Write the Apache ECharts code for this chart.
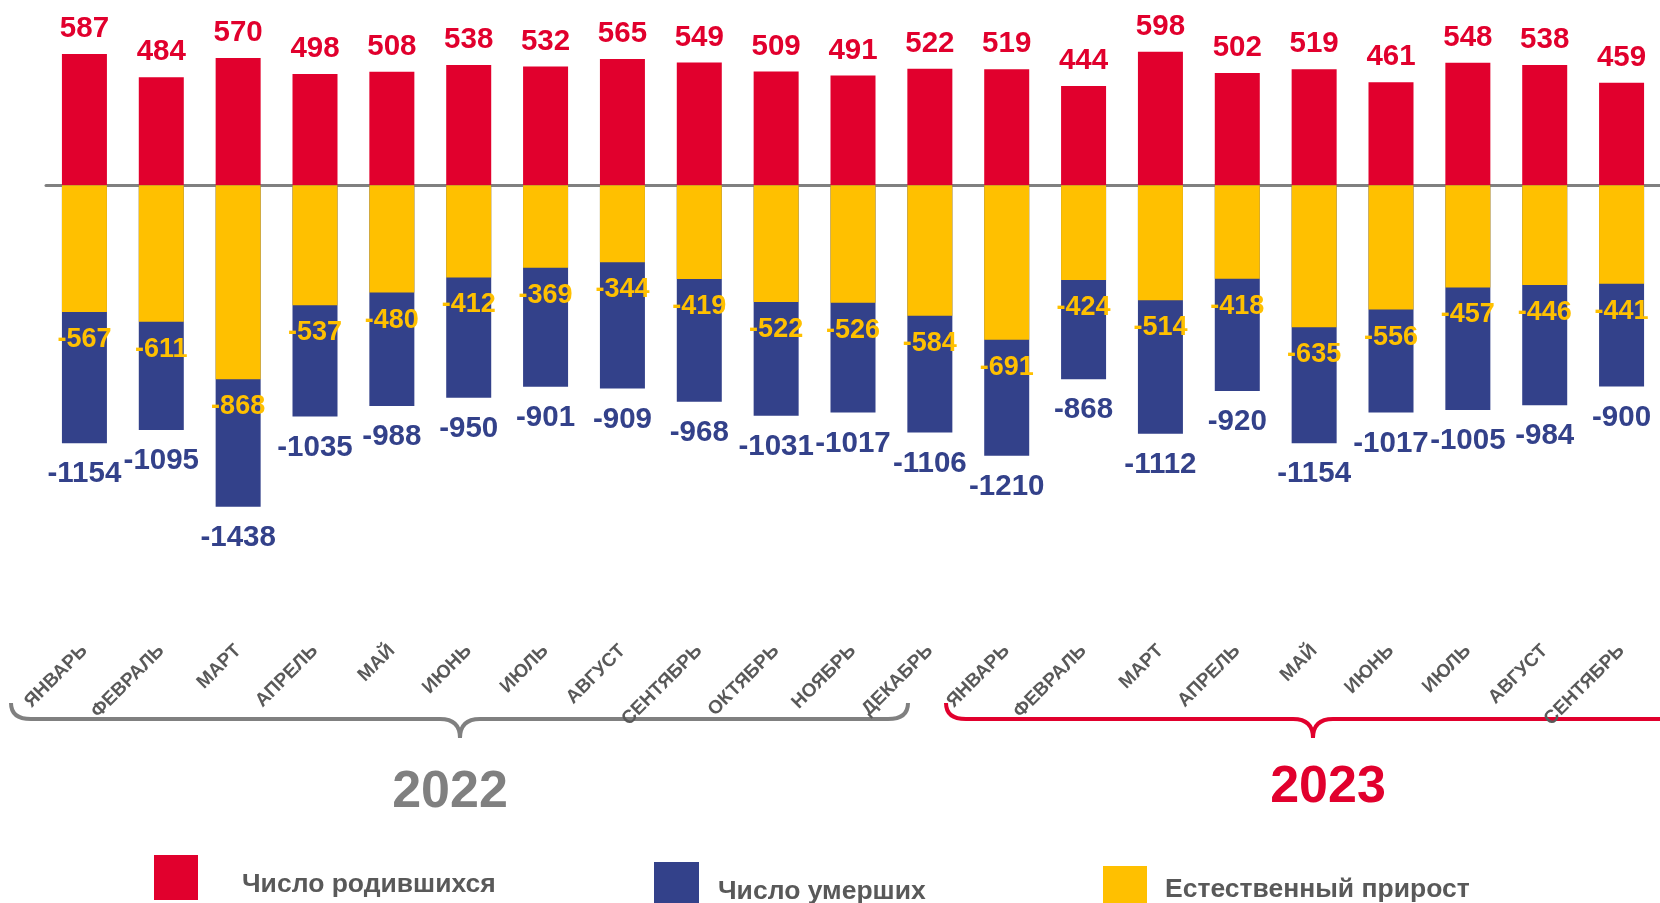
<!DOCTYPE html>
<html>
<head>
    <meta charset="utf-8">
    <title>ECharts</title>
    <script src="https://cdn.jsdelivr.net/npm/echarts@6/dist/echarts.min.js"></script>
    <style>
        html, body { margin: 0; padding: 0; background: #fff; }
    </style>
</head>
<body>
    <div id="main" style="width: 1660px;height:903px;"></div>
    <script type="text/javascript">
        var myChart = echarts.init(document.getElementById('main'));

        // месяцы
        var months = ['ЯНВАРЬ', 'ФЕВРАЛЬ', 'МАРТ', 'АПРЕЛЬ', 'МАЙ', 'ИЮНЬ', 'ИЮЛЬ', 'АВГУСТ',
            'СЕНТЯБРЬ', 'ОКТЯБРЬ', 'НОЯБРЬ', 'ДЕКАБРЬ',
            'ЯНВАРЬ', 'ФЕВРАЛЬ', 'МАРТ', 'АПРЕЛЬ', 'МАЙ', 'ИЮНЬ', 'ИЮЛЬ', 'АВГУСТ', 'СЕНТЯБРЬ'];

        var births = [587, 484, 570, 498, 508, 538, 532, 565, 549, 509, 491, 522,
            519, 444, 598, 502, 519, 461, 548, 538, 459];
        var deaths = [-1154, -1095, -1438, -1035, -988, -950, -901, -909, -968, -1031, -1017, -1106,
            -1210, -868, -1112, -920, -1154, -1017, -1005, -984, -900];
        var growth = [-567, -611, -868, -537, -480, -412, -369, -344, -419, -522, -526, -584,
            -691, -424, -514, -418, -635, -556, -457, -446, -441];

        var years = ['2022', '2023'];
        var names = ['Число родившихся', 'Число умерших', 'Естественный прирост'];

        var RED = '#E1002D', BLUE = '#33418A', YEL = '#FFC000', GRAY = '#808080';
        var FONT = '"Liberation Sans", Arial, sans-serif';

        // фигурная скобка под годом
        function brace(x1, xm, x2, color) {
            var yTop = 703, y = 719, yTip = 738, r = 20;
            var st = { stroke: color, lineWidth: 4, fill: null };
            return [
                { type: 'bezierCurve', shape: { x1: x1, y1: yTop, cpx1: x1, cpy1: y, x2: x1 + r, y2: y }, style: st },
                { type: 'line', shape: { x1: x1 + r, y1: y, x2: xm - r, y2: y }, style: st },
                { type: 'bezierCurve', shape: { x1: xm - r, y1: y, cpx1: xm, cpy1: y, x2: xm, y2: yTip }, style: st },
                { type: 'bezierCurve', shape: { x1: xm, y1: yTip, cpx1: xm, cpy1: y, x2: xm + r, y2: y }, style: st },
                { type: 'line', shape: { x1: xm + r, y1: y, x2: x2 - r, y2: y }, style: st },
                { type: 'bezierCurve', shape: { x1: x2 - r, y1: y, cpx1: x2, cpy1: y, x2: x2, y2: yTop }, style: st }
            ];
        }

        var graphics = brace(11, 460, 908, GRAY).concat(brace(946, 1313, 1680, RED));
        graphics.push({
            type: 'text', x: 450, y: 793,
            style: { text: years[0], fill: GRAY, font: 'bold 52px ' + FONT, textAlign: 'center', textVerticalAlign: 'middle' }
        }, {
            type: 'text', x: 1328, y: 788,
            style: { text: years[1], fill: RED, font: 'bold 52px ' + FONT, textAlign: 'center', textVerticalAlign: 'middle' }
        });

        // текст легенды чуть ниже квадрата
        var legendText = function (padLeft, padTop) {
            return {
                color: '#595959', fontFamily: FONT, fontWeight: 'bold', fontSize: 26.5,
                padding: [0, 0, 0, padLeft],
                rich: {
                    t: { color: '#595959', fontFamily: FONT, fontWeight: 'bold', fontSize: 26.5, padding: [padTop, 0, 0, 0] }
                }
            };
        };

        option = {
            backgroundColor: '#fff',
            animation: false,
            grid: { left: 46, top: 6.5, width: 1629, height: 536.4 },
            xAxis: [{
                type: 'category',
                data: months,
                axisLine: { onZero: true, lineStyle: { color: GRAY, width: 3 } },
                axisTick: { show: false },
                axisLabel: { show: false }
            }, {
                type: 'category',
                data: months,
                position: 'bottom',
                axisLine: { show: false, onZero: false },
                axisTick: { show: false },
                axisLabel: {
                    interval: 0,
                    rotate: 45,
                    margin: 105,
                    color: '#595959',
                    fontFamily: FONT,
                    fontWeight: 'bold',
                    fontSize: 19
                }
            }],
            yAxis: { type: 'value', min: -1600, max: 800, show: false, splitLine: { show: false } },
            legend: [{
                data: [names[0]], left: 154, top: 855, padding: 0,
                itemWidth: 44, itemHeight: 45, icon: 'rect',
                formatter: '{t|{name}}',
                textStyle: legendText(39, 15)
            }, {
                data: [names[1]], left: 654, top: 862, padding: 0,
                itemWidth: 45, itemHeight: 45, icon: 'rect',
                formatter: '{t|{name}}',
                textStyle: legendText(14, 14)
            }, {
                data: [names[2]], left: 1103, top: 866, padding: 0,
                itemWidth: 44, itemHeight: 45, icon: 'rect',
                formatter: '{t|{name}}',
                textStyle: legendText(13, 2)
            }],
            graphic: graphics,
            series: [{
                name: names[0],
                type: 'bar',
                data: births,
                barWidth: 45,
                barGap: '-100%',
                itemStyle: { color: RED },
                label: { show: true, position: 'outside', distance: 10, color: RED, fontFamily: FONT, fontWeight: 'bold', fontSize: 29.5 }
            }, {
                name: names[1],
                type: 'bar',
                data: deaths,
                barWidth: 45,
                barGap: '-100%',
                itemStyle: { color: BLUE },
                label: { show: true, position: 'outside', distance: 16, color: BLUE, fontFamily: FONT, fontWeight: 'bold', fontSize: 29.5 }
            }, {
                name: names[2],
                type: 'bar',
                data: growth,
                barWidth: 45,
                barGap: '-100%',
                z: 3,
                itemStyle: { color: YEL },
                label: { show: true, position: 'outside', distance: 14, color: YEL, fontFamily: FONT, fontWeight: 'bold', fontSize: 27 }
            }]
        };

        myChart.setOption(option);
    </script>
</body>
</html>
